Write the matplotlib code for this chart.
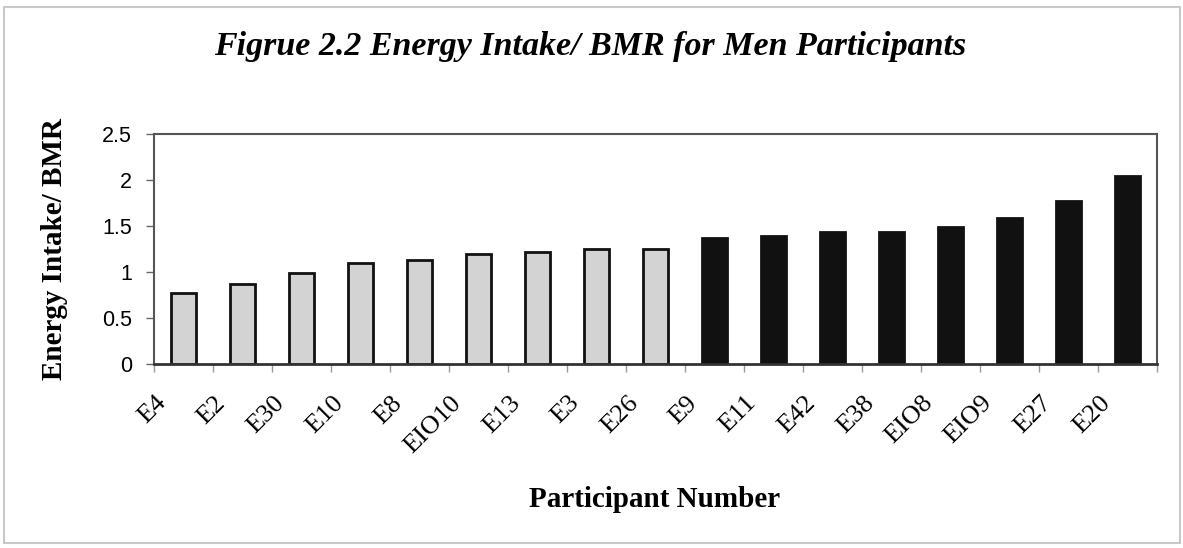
import numpy as np
import matplotlib.pyplot as plt
from matplotlib.patches import Rectangle
import matplotlib.transforms as mtransforms

# participants, sorted by ratio
participants = ['E4', 'E2', 'E30', 'E10', 'E8', 'EIO10', 'E13', 'E3', 'E26',
                'E9', 'E11', 'E42', 'E38', 'EIO8', 'EIO9', 'E27', 'E20']
ratio = [0.77, 0.87, 0.99, 1.10, 1.13, 1.20, 1.22, 1.245, 1.255,
         1.37, 1.39, 1.43, 1.435, 1.49, 1.59, 1.77, 2.045]
low_count = 9   # first 9 drawn grey, rest black

W, H = 1183, 548
fig = plt.figure(figsize=(W / 100, H / 100), dpi=100)

# light grey frame round the whole chart
fig.patches.append(Rectangle((4 / W, 5 / H), 1176 / W, 536 / H, transform=fig.transFigure,
                             fill=False, edgecolor='#c8c8c8', linewidth=1.5))

left, right, top, bottom = 154, 1157, 134, 364
ax = fig.add_axes([left / W, 1 - bottom / H, (right - left) / W, (bottom - top) / H])

x = np.arange(len(participants))
colors = ['#d3d3d3'] * low_count + ['#111111'] * (len(participants) - low_count)
ax.bar(x, ratio, width=0.42, color=colors, edgecolor='#111111', linewidth=2)

ax.set_xlim(-0.5, len(participants) - 0.5)
ax.set_ylim(0, 2.5)
ax.set_yticks([0, 0.5, 1, 1.5, 2, 2.5])
ax.set_yticklabels(['0', '0.5', '1', '1.5', '2', '2.5'], family='Liberation Sans', fontsize=15.5)
ax.tick_params(axis='y', length=6, width=1, color='#666666', pad=10)

ax.set_xticks(x)
ax.set_xticklabels(participants, family='Liberation Serif', fontsize=19, rotation=45,
                   ha='right', va='top')
ax.set_xticks(np.arange(len(participants) + 1) - 0.5, minor=True)
ax.tick_params(axis='x', which='major', length=0, pad=20)
ax.tick_params(axis='x', which='minor', length=6, width=1, color='#999999')
shift = mtransforms.ScaledTranslation(-13 / 100, 0, fig.dpi_scale_trans)
for lab in ax.get_xticklabels():
    lab.set_transform(lab.get_transform() + shift)

for s in ['top', 'right', 'left']:
    ax.spines[s].set_color('#555555')
    ax.spines[s].set_linewidth(1.5)
ax.spines['bottom'].set_color('#333333')
ax.spines['bottom'].set_linewidth(2)

fig.text(590 / W, 1 - 55 / H, 'Figrue 2.2 Energy Intake/ BMR for Men Participants',
         ha='center', va='baseline', family='Liberation Serif', style='italic',
         weight='bold', fontsize=24.5)
fig.text(54 / W, 1 - 249 / H, 'Energy Intake/ BMR', rotation=90, ha='center', va='center',
         family='Liberation Serif', weight='bold', fontsize=21)
fig.text(655 / W, 1 - 507 / H, 'Participant Number', ha='center', va='baseline',
         family='Liberation Serif', weight='bold', fontsize=21)

fig.savefig('out.png', dpi=100)
